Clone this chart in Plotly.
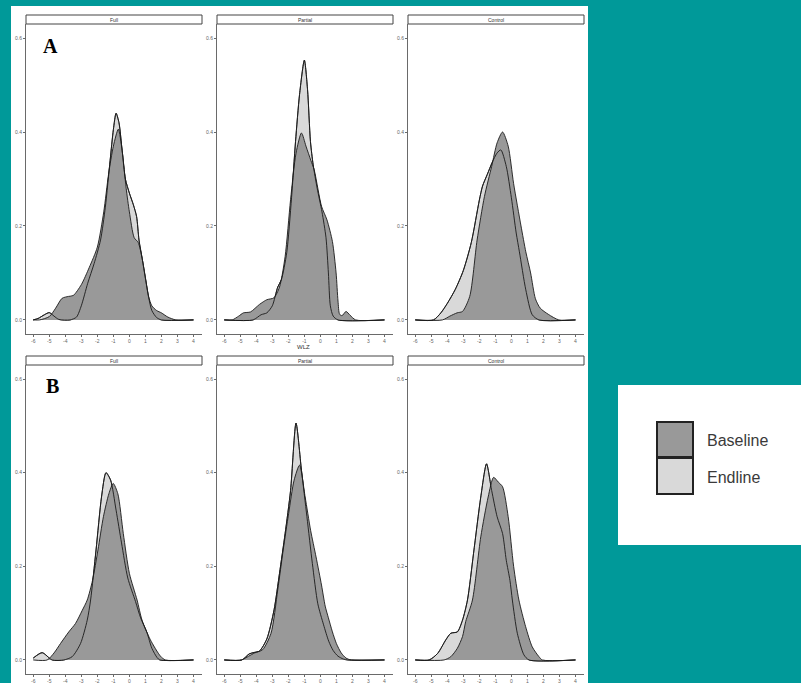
import plotly.graph_objects as go

# ---------------- data (density curves) ----------------
panels = ["Full", "Partial", "Control"]
x_ticks = [-6, -5, -4, -3, -2, -1, 0, 1, 2, 3, 4]
y_ticks = [0.0, 0.2, 0.4, 0.6]
y_tick_labels = ["0.0", "0.2", "0.4", "0.6"]
series_names = ["Baseline", "Endline"]

# Row A
a_full_base_x = [-6, -5.6, -5.0, -4.6, -4.2, -3.8, -3.5, -3.0, -2.5, -2.0, -1.6, -1.3, -1.0, -0.69, -0.45, -0.2, 0.0, 0.3, 0.55, 0.8, 1.0, 1.2, 1.4, 1.7, 2.0, 2.4, 2.9, 4]
a_full_base_y = [0, 0, 0.007, 0.025, 0.046, 0.05, 0.052, 0.075, 0.112, 0.155, 0.23, 0.31, 0.37, 0.406, 0.36, 0.28, 0.23, 0.175, 0.165, 0.13, 0.09, 0.05, 0.03, 0.02, 0.015, 0.006, 0, 0]
a_full_end_x = [-6, -5.7, -5.3, -5.0, -4.7, -4.4, -3.7, -3.3, -3.0, -2.6, -2.2, -1.8, -1.5, -1.2, -1.0, -0.83, -0.65, -0.45, -0.25, 0.0, 0.25, 0.45, 0.6, 0.8, 1.0, 1.2, 1.4, 1.7, 2.0, 4]
a_full_end_y = [0, 0.003, 0.011, 0.0155, 0.008, 0.001, 0, 0.006, 0.03, 0.078, 0.12, 0.17, 0.24, 0.34, 0.405, 0.44, 0.42, 0.36, 0.3, 0.27, 0.245, 0.22, 0.17, 0.13, 0.088, 0.048, 0.02, 0.005, 0, 0]

a_partial_base_x = [-6, -5.5, -5.1, -4.8, -4.36, -3.8, -3.34, -2.9, -2.55, -2.2, -1.86, -1.52, -1.18, -0.9, -0.6, -0.39, 0.07, 0.41, 0.75, 0.98, 1.1, 1.2, 1.35, 1.6, 1.85, 2.2, 4]
a_partial_base_y = [0, 0, 0.008, 0.015, 0.017, 0.033, 0.043, 0.047, 0.07, 0.135, 0.256, 0.355, 0.398, 0.37, 0.34, 0.32, 0.242, 0.213, 0.167, 0.1, 0.04, 0.012, 0.009, 0.018, 0.01, 0, 0]
a_partial_end_x = [-6, -4.2, -3.7, -3.34, -3.0, -2.66, -2.43, -2.1, -1.8, -1.55, -1.3, -1.0, -0.8, -0.62, -0.45, -0.2, 0.1, 0.35, 0.5, 0.62, 0.8, 1.1, 4]
a_partial_end_y = [0, 0, 0.011, 0.015, 0.03, 0.07, 0.086, 0.143, 0.26, 0.38, 0.48, 0.553, 0.49, 0.38, 0.33, 0.28, 0.23, 0.175, 0.1, 0.03, 0.008, 0, 0]

a_control_base_x = [-6, -4.3, -3.84, -3.39, -3.05, -2.6, -2.14, -1.68, -1.23, -0.89, -0.55, -0.2, 0.14, 0.6, 0.9, 1.2, 1.5, 1.8, 2.3, 2.96, 4]
a_control_base_y = [0, 0, 0.008, 0.015, 0.018, 0.05, 0.17, 0.263, 0.327, 0.377, 0.40, 0.37, 0.29, 0.2, 0.145, 0.1, 0.045, 0.025, 0.012, 0, 0]
a_control_end_x = [-6, -4.86, -4.4, -4.0, -3.5, -3.0, -2.5, -2.0, -1.8, -1.5, -1.2, -0.9, -0.66, -0.32, 0.0, 0.3, 0.5, 0.9, 1.3, 1.72, 4]
a_control_end_y = [0, 0, 0.015, 0.035, 0.065, 0.105, 0.165, 0.255, 0.285, 0.31, 0.335, 0.355, 0.362, 0.327, 0.26, 0.185, 0.145, 0.064, 0.011, 0, 0]

# Row B
b_full_base_x = [-6, -5.13, -4.7, -4.3, -3.78, -3.36, -2.94, -2.63, -2.3, -1.96, -1.62, -1.28, -1.01, -0.72, -0.38, 0.0, 0.48, 0.79, 1.31, 1.94, 2.25, 4]
b_full_base_y = [0, 0, 0.015, 0.035, 0.06, 0.078, 0.106, 0.128, 0.17, 0.235, 0.306, 0.355, 0.377, 0.355, 0.27, 0.185, 0.128, 0.085, 0.043, 0.008, 0, 0]
b_full_end_x = [-6, -5.44, -4.82, -4.09, -3.57, -3.05, -2.63, -2.42, -2.08, -1.74, -1.46, -1.17, -0.83, -0.49, -0.1, 0.38, 0.7, 1.1, 1.4, 1.73, 1.9, 4]
b_full_end_y = [0.004, 0.0155, 0, 0, 0.007, 0.035, 0.085, 0.128, 0.235, 0.348, 0.40, 0.384, 0.32, 0.25, 0.175, 0.125, 0.09, 0.058, 0.025, 0.005, 0, 0]

b_partial_base_x = [-6, -4.93, -4.48, -4.1, -3.6, -3.08, -2.66, -2.32, -1.98, -1.64, -1.3, -0.95, -0.61, -0.27, 0.07, 0.3, 0.5, 0.75, 1.0, 1.3, 1.6, 1.92, 4]
b_partial_base_y = [0, 0, 0.008, 0.015, 0.022, 0.057, 0.15, 0.235, 0.313, 0.384, 0.416, 0.348, 0.277, 0.22, 0.16, 0.115, 0.09, 0.06, 0.035, 0.015, 0.004, 0, 0]
b_partial_end_x = [-6, -4.9, -4.44, -4.13, -3.8, -3.34, -2.89, -2.55, -2.2, -1.86, -1.52, -1.18, -0.84, -0.5, -0.16, 0.2, 0.52, 0.8, 1.1, 1.43, 1.7, 4]
b_partial_end_y = [0, 0, 0.013, 0.016, 0.019, 0.045, 0.107, 0.185, 0.27, 0.362, 0.506, 0.405, 0.306, 0.206, 0.12, 0.075, 0.04, 0.02, 0.008, 0.002, 0, 0]

b_control_base_x = [-6, -4.2, -3.78, -3.37, -3.05, -2.85, -2.43, -1.91, -1.45, -1.11, -0.82, -0.55, -0.2, 0.14, 0.47, 0.89, 1.3, 1.72, 1.93, 4]
b_control_base_y = [0, 0, 0.007, 0.025, 0.05, 0.082, 0.128, 0.263, 0.348, 0.39, 0.38, 0.37, 0.306, 0.2, 0.128, 0.071, 0.028, 0.007, 0, 0]
b_control_end_x = [-6, -5.13, -4.6, -4.09, -3.78, -3.37, -3.05, -2.74, -2.36, -1.91, -1.55, -1.23, -0.89, -0.55, -0.32, -0.09, 0.06, 0.37, 0.78, 1.1, 4]
b_control_end_y = [0, 0, 0.014, 0.043, 0.057, 0.06, 0.085, 0.128, 0.228, 0.348, 0.419, 0.362, 0.306, 0.27, 0.213, 0.17, 0.128, 0.057, 0.011, 0, 0]

rows = [
    [(a_full_base_x, a_full_base_y, a_full_end_x, a_full_end_y),
     (a_partial_base_x, a_partial_base_y, a_partial_end_x, a_partial_end_y),
     (a_control_base_x, a_control_base_y, a_control_end_x, a_control_end_y)],
    [(b_full_base_x, b_full_base_y, b_full_end_x, b_full_end_y),
     (b_partial_base_x, b_partial_base_y, b_partial_end_x, b_partial_end_y),
     (b_control_base_x, b_control_base_y, b_control_end_x, b_control_end_y)],
]

# ---------------- layout geometry (pixels) ----------------
W, H = 801, 683
TEAL = "#009999"
DARK = "#999999"
LIGHT = "#d9d9d9"
LINE = "#1a1a1a"
AXIS = "#6a6a6a"

def px(x):
    return x / W

def py(y):
    return 1 - y / H

col_px = [(26, 202), (217, 393), (408, 584)]
row_px = [(24, 334), (365, 674)]       # plot area top/bottom
strip_px = [(15, 24), (356, 365)]      # strip top/bottom

fig = go.Figure()
layout_axes = {}
k = 0
for r in range(2):
    for c in range(3):
        k += 1
        xa = "x" if k == 1 else f"x{k}"
        ya = "y" if k == 1 else f"y{k}"
        bx, by, ex, ey = rows[r][c]
        # endline fill (underneath)
        fig.add_trace(go.Scatter(x=ex, y=ey, xaxis=xa, yaxis=ya, mode="lines",
                                 line=dict(color=LINE, width=0.9, shape="spline", smoothing=0.7),
                                 fill="tozeroy", fillcolor=LIGHT, showlegend=False,
                                 name=series_names[1], hoverinfo="skip"))
        # baseline fill
        fig.add_trace(go.Scatter(x=bx, y=by, xaxis=xa, yaxis=ya, mode="lines",
                                 line=dict(color=LINE, width=0.9, shape="spline", smoothing=0.7),
                                 fill="tozeroy", fillcolor=DARK, showlegend=False,
                                 name=series_names[0], hoverinfo="skip"))
        # endline outline on top
        fig.add_trace(go.Scatter(x=ex, y=ey, xaxis=xa, yaxis=ya, mode="lines",
                                 line=dict(color=LINE, width=0.9, shape="spline", smoothing=0.7),
                                 showlegend=False, name=series_names[1], hoverinfo="skip"))
        x0, x1 = col_px[c]
        y0, y1 = row_px[r]
        suffix = "" if k == 1 else str(k)
        layout_axes["xaxis" + suffix] = dict(
            domain=[px(x0), px(x1)], range=[-6.45, 4.53], anchor=ya,
            tickvals=x_ticks, ticktext=[str(v) for v in x_ticks],
            tickfont=dict(size=5, color="#666", family="Liberation Sans"),
            showline=True, linecolor=AXIS, linewidth=1, ticks="outside", ticklen=2,
            tickcolor=AXIS, showgrid=False, zeroline=False, fixedrange=True)
        layout_axes["yaxis" + suffix] = dict(
            domain=[py(y1), py(y0)], range=[-0.03, 0.63], anchor=xa,
            tickvals=y_ticks, ticktext=y_tick_labels,
            tickfont=dict(size=5, color="#666", family="Liberation Sans"),
            showline=True, linecolor=AXIS, linewidth=1, ticks="outside", ticklen=2,
            tickcolor=AXIS, showgrid=False, zeroline=False, fixedrange=True)

shapes = [
    dict(type="rect", xref="paper", yref="paper", x0=px(11), x1=px(588), y0=py(683), y1=py(6),
         fillcolor="white", line=dict(width=0), layer="below"),
    dict(type="rect", xref="paper", yref="paper", x0=px(618), x1=px(801), y0=py(545), y1=py(385),
         fillcolor="white", line=dict(width=0), layer="below"),
    # legend swatches
    dict(type="rect", xref="paper", yref="paper", x0=px(657), x1=px(693), y0=py(457), y1=py(422),
         fillcolor=DARK, line=dict(color="#222", width=2)),
    dict(type="rect", xref="paper", yref="paper", x0=px(657), x1=px(693), y0=py(494), y1=py(458),
         fillcolor=LIGHT, line=dict(color="#222", width=2)),
]
annotations = []
for r in range(2):
    for c in range(3):
        x0, x1 = col_px[c]
        s0, s1 = strip_px[r]
        shapes.append(dict(type="rect", xref="paper", yref="paper", x0=px(x0), x1=px(x1),
                           y0=py(s1), y1=py(s0), fillcolor="white",
                           line=dict(color="#444", width=1)))
        annotations.append(dict(x=px((x0 + x1) / 2), y=py((s0 + s1) / 2), xref="paper", yref="paper",
                                text=panels[c], showarrow=False, xanchor="center", yanchor="middle",
                                font=dict(size=5, color="#333", family="Liberation Sans")))

annotations += [
    dict(x=px(50), y=py(46), xref="paper", yref="paper", text="<b>A</b>", showarrow=False,
         xanchor="center", yanchor="middle", font=dict(size=20, color="black", family="Liberation Serif")),
    dict(x=px(53), y=py(386), xref="paper", yref="paper", text="<b>B</b>", showarrow=False,
         xanchor="center", yanchor="middle", font=dict(size=20, color="black", family="Liberation Serif")),
    dict(x=px(303), y=py(346.5), xref="paper", yref="paper", text="WLZ", showarrow=False,
         xanchor="center", yanchor="middle", font=dict(size=6, color="#333", family="Liberation Sans")),
    dict(x=px(705), y=py(440), xref="paper", yref="paper", text=series_names[0], showarrow=False,
         xanchor="left", yanchor="middle", font=dict(size=16, color="#3a3a3a", family="Liberation Sans")),
    dict(x=px(705), y=py(477), xref="paper", yref="paper", text=series_names[1], showarrow=False,
         xanchor="left", yanchor="middle", font=dict(size=16, color="#3a3a3a", family="Liberation Sans")),
]

fig.update_layout(
    width=W, height=H, margin=dict(l=0, r=0, t=0, b=0),
    paper_bgcolor=TEAL, plot_bgcolor="rgba(0,0,0,0)",
    shapes=shapes, annotations=annotations, showlegend=False,
    **layout_axes,
)

fig.write_html(
    "out.html",
    config={"displayModeBar": False, "staticPlot": True},
    post_script="document.body.style.margin='0';document.body.style.padding='0';"
                "document.body.style.background='" + TEAL + "';document.body.style.overflow='hidden';",
)
